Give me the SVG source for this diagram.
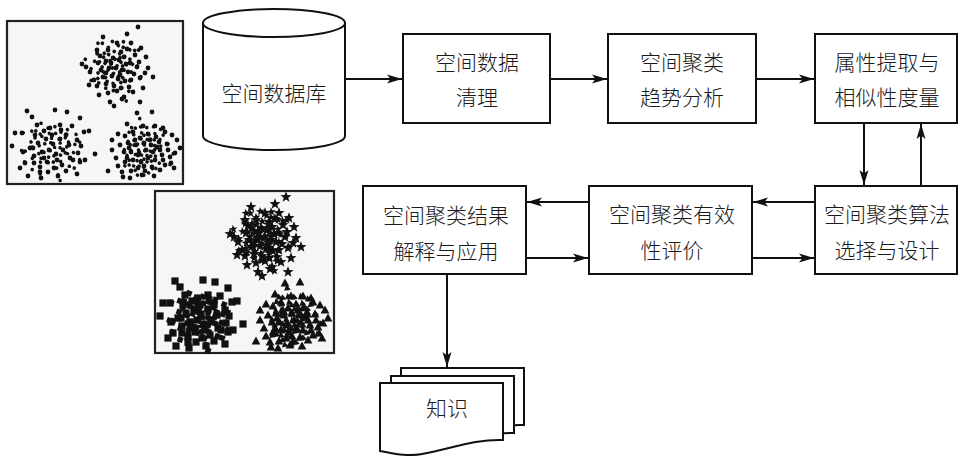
<svg xmlns="http://www.w3.org/2000/svg" xmlns:xlink="http://www.w3.org/1999/xlink" width="958" height="456" viewBox="0 0 958 456">
<style>
.bx{fill:#fff;stroke:#111;stroke-width:2}
.cn{fill:none;stroke:#111;stroke-width:2;marker-end:url(#ah)}
.t{font-family:"Noto Sans CJK SC","Liberation Sans",sans-serif;font-size:21px;font-weight:300;fill:#1a1a1a;text-anchor:middle}
.pan{fill:#f6f6f6;stroke:#222;stroke-width:2.2}
.pts{fill:none;stroke:none}
.dot{marker-start:url(#mdot);marker-mid:url(#mdot);marker-end:url(#mdot)}
.star{marker-start:url(#mstar);marker-mid:url(#mstar);marker-end:url(#mstar)}
.sq{marker-start:url(#msq);marker-mid:url(#msq);marker-end:url(#msq)}
.tri{marker-start:url(#mtri);marker-mid:url(#mtri);marker-end:url(#mtri)}
</style>
<defs>
<marker id="ah" markerUnits="userSpaceOnUse" markerWidth="16" markerHeight="12" viewBox="0 0 16 12" refX="15" refY="6" orient="auto">
<path d="M0,1.5 L15,6 L0,10.5 L3.5,6 Z" fill="#111"/>
</marker>
<marker id="mdot" markerUnits="userSpaceOnUse" markerWidth="8" markerHeight="8" viewBox="-4 -4 8 8" refX="0" refY="0" overflow="visible">
<circle r="2.4" fill="#111"/>
</marker>
<marker id="mstar" markerUnits="userSpaceOnUse" markerWidth="14" markerHeight="14" viewBox="-7 -7 14 14" refX="0" refY="0" overflow="visible">
<polygon points="0,-5.8 1.45,-1.95 5.55,-1.8 2.3,0.7 3.4,4.7 0,2.4 -3.4,4.7 -2.3,0.7 -5.55,-1.8 -1.45,-1.95" fill="#111"/>
</marker>
<marker id="msq" markerUnits="userSpaceOnUse" markerWidth="10" markerHeight="10" viewBox="-5 -5 10 10" refX="0" refY="0" overflow="visible">
<rect x="-3.6" y="-3.6" width="7.2" height="7.2" fill="#111"/>
</marker>
<marker id="mtri" markerUnits="userSpaceOnUse" markerWidth="12" markerHeight="12" viewBox="-6 -6 12 12" refX="0" refY="0" overflow="visible">
<polygon points="0,-4.4 4.4,3.4 -4.4,3.4" fill="#111"/>
</marker>
<path id="cA" d="M138,27 L103,37 L127,34 L117,43 L131,43 L141,48 L97,50 L108,50 L121,52 L127,49 L135,55 L146,57 L82,64 L98,63 L106,61 L113,58 L119,60 L124,57 L130,63 L137,67 L148,68 L90,72 L101,70 L109,68 L116,68 L122,70 L128,72 L134,74 L153,77 L94,80 L103,77 L112,76 L118,79 L125,81 L131,80 L140,78 L89,85 L97,86 L106,84 L114,86 L121,88 L129,87 L143,88 L99,95 L108,93 L117,91 L124,97 L110,102 L122,99 L140,102 L114,106 L86,67 L100,56 L133,92 L126,64 L111,63 L120,75 L106,73 L139,62 L145,73"/>
<path id="cB" d="M27,111 L32,117 L55,110 L67,112 L80,118 L15,133 L22,133 L35,135 L44,131 L50,128 L60,125 L72,126 L84,132 L89,131 L12,146 L30,148 L38,143 L46,139 L53,144 L60,139 L66,135 L77,140 L81,146 L25,163 L34,156 L42,152 L49,150 L56,154 L63,150 L70,158 L78,153 L95,154 L20,168 L34,163 L40,167 L47,162 L54,168 L62,165 L73,160 L80,162 L28,176 L41,178 L48,172 L58,176 L66,171 L77,174 L33,148 L57,160 L44,158 L69,145 L37,125 L52,135 L23,152 L61,130 L40,172 L85,160"/>
<path id="cC" d="M137,113 L152,112 L127,124 L143,126 L155,126 L163,128 L118,134 L125,136 L133,132 L140,138 L148,134 L156,137 L165,132 L172,135 L112,150 L120,145 L128,143 L136,145 L144,143 L151,145 L159,142 L167,144 L177,140 L180,148 L108,171 L116,158 L124,152 L131,152 L139,153 L146,150 L153,152 L160,150 L168,150 L175,153 L118,166 L125,162 L133,160 L141,162 L148,158 L155,160 L163,160 L171,163 L123,177 L131,171 L138,168 L145,171 L152,167 L160,170 L165,165 L130,178 L142,175 L154,176 L135,140 L150,140 L138,155 L162,155 L127,158 L144,166 L157,147 L170,157 L112,140 L174,168 L122,172 L129,148"/>
<path id="doc" d="M0,0 H123 V57 C95,56 70,66 42,71 C25,74 12,70 0,68 Z"/>
</defs>

<g id="panel1">
<rect class="pan" x="7" y="21" width="176" height="163"/>
<use xlink:href="#cA" class="pts dot"/>
<use xlink:href="#cA" class="pts dot" transform="translate(117,67) rotate(137) scale(0.78) translate(-117,-67)"/>
<use xlink:href="#cB" class="pts dot"/>
<use xlink:href="#cB" class="pts dot" transform="translate(52,148) rotate(200) scale(0.75) translate(-52,-148)"/>
<use xlink:href="#cC" class="pts dot"/>
<use xlink:href="#cC" class="pts dot" transform="translate(145,150) rotate(110) scale(0.75) translate(-145,-150)"/>
</g>
<g id="panel2">
<rect class="pan" x="155" y="191" width="179" height="162"/>
<g transform="translate(148,170)">
<use xlink:href="#cA" class="pts star"/>
<use xlink:href="#cA" class="pts star" transform="translate(117,67) rotate(137) scale(0.78) translate(-117,-67)"/>
<use xlink:href="#cB" class="pts sq"/>
<use xlink:href="#cB" class="pts sq" transform="translate(52,148) rotate(200) scale(0.75) translate(-52,-148)"/>
<use xlink:href="#cC" class="pts tri"/>
<use xlink:href="#cC" class="pts tri" transform="translate(145,150) rotate(110) scale(0.75) translate(-145,-150)"/>
</g>
</g>

<g id="db">
<path class="bx" d="M203,23 L203,136 A71,14 0 0 0 345,136 L345,23"/>
<ellipse class="bx" cx="274" cy="23" rx="71" ry="14"/>
<text class="t" x="274" y="101">空间数据库</text>
</g>
<g id="n1">
<rect class="bx" x="403" y="34" width="147" height="89"/>
<text class="t" x="477" y="70">空间数据</text>
<text class="t" x="477" y="105">清理</text>
</g>
<g id="n2">
<rect class="bx" x="608" y="34" width="148" height="89"/>
<text class="t" x="682" y="70">空间聚类</text>
<text class="t" x="682" y="105">趋势分析</text>
</g>
<g id="n3">
<rect class="bx" x="815" y="34" width="142" height="89"/>
<text class="t" x="887" y="70">属性提取与</text>
<text class="t" x="887" y="105">相似性度量</text>
</g>
<g id="n4">
<rect class="bx" x="815" y="186" width="142" height="88"/>
<text class="t" x="887" y="222">空间聚类算法</text>
<text class="t" x="887" y="258">选择与设计</text>
</g>
<g id="n5">
<rect class="bx" x="589" y="186" width="163" height="88"/>
<text class="t" x="672" y="222">空间聚类有效</text>
<text class="t" x="672" y="258">性评价</text>
</g>
<g id="n6">
<rect class="bx" x="363" y="186" width="163" height="88"/>
<text class="t" x="446" y="223">空间聚类结果</text>
<text class="t" x="446" y="259">解释与应用</text>
</g>
<g id="knowledge">
<use xlink:href="#doc" class="bx" transform="translate(401,368)"/>
<use xlink:href="#doc" class="bx" transform="translate(391,376)"/>
<use xlink:href="#doc" class="bx" transform="translate(380,383)"/>
<text class="t" x="447" y="416">知识</text>
</g>

<g id="connectors">
<line class="cn" x1="345" y1="79" x2="402" y2="79"/>
<line class="cn" x1="550" y1="79" x2="607" y2="79"/>
<line class="cn" x1="756" y1="79" x2="814" y2="79"/>
<line class="cn" x1="864" y1="123" x2="864" y2="185"/>
<line class="cn" x1="921" y1="186" x2="921" y2="124"/>
<line class="cn" x1="815" y1="202" x2="753" y2="202"/>
<line class="cn" x1="752" y1="258" x2="814" y2="258"/>
<line class="cn" x1="589" y1="202" x2="527" y2="202"/>
<line class="cn" x1="526" y1="258" x2="588" y2="258"/>
<line class="cn" x1="447" y1="274" x2="447" y2="367"/>
</g>
</svg>
